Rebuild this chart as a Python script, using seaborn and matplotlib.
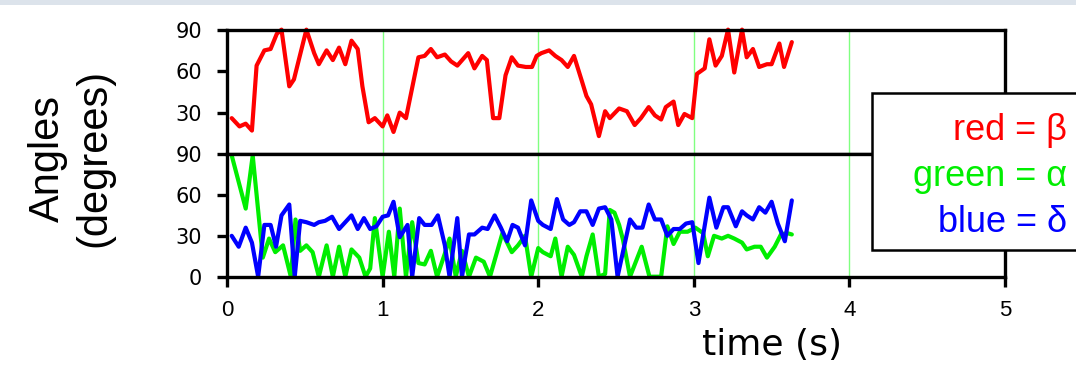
import pandas as pd
import matplotlib.pyplot as plt
import seaborn as sns
from matplotlib.patches import Rectangle

# Angles (time in s, angle in degrees)
red_t = [0.03, 0.08, 0.12, 0.16, 0.19, 0.24, 0.28, 0.32, 0.35, 0.40,
         0.43, 0.47, 0.51, 0.56, 0.59, 0.64, 0.68, 0.72, 0.76, 0.80,
         0.84, 0.87, 0.91, 0.95, 1.00, 1.03, 1.07, 1.11, 1.15, 1.19,
         1.23, 1.27, 1.31, 1.35, 1.40, 1.44, 1.48, 1.55, 1.59, 1.64,
         1.67, 1.71, 1.75, 1.79, 1.83, 1.87, 1.92, 1.96, 1.99, 2.02,
         2.07, 2.11, 2.15, 2.19, 2.23, 2.28, 2.31, 2.34, 2.39, 2.43,
         2.46, 2.52, 2.57, 2.62, 2.66, 2.71, 2.75, 2.79, 2.82, 2.87,
         2.90, 2.94, 2.99, 3.02, 3.07, 3.10, 3.14, 3.18, 3.22, 3.26,
         3.31, 3.34, 3.38, 3.42, 3.47, 3.50, 3.55, 3.58, 3.63]
red_beta = [26, 20, 22, 17, 64, 75, 76, 87, 90, 49,
            54, 72, 90, 73, 65, 75, 68, 77, 65, 82,
            76, 49, 23, 26, 20, 28, 16, 30, 26, 48,
            70, 71, 76, 70, 72, 67, 64, 73, 62, 71,
            68, 26, 26, 57, 70, 64, 63, 63, 71, 73,
            75, 71, 68, 63, 71, 53, 42, 36, 13, 31,
            26, 33, 31, 21, 26, 34, 28, 25, 34, 38,
            21, 29, 26, 58, 62, 83, 64, 71, 90, 59,
            90, 70, 76, 63, 65, 65, 80, 63, 81]

green_t = [0.03, 0.12, 0.165, 0.23, 0.27, 0.31, 0.36, 0.41, 0.44, 0.47,
           0.51, 0.55, 0.59, 0.64, 0.68, 0.72, 0.76, 0.80, 0.85, 0.89,
           0.92, 0.95, 1.00, 1.04, 1.075, 1.11, 1.15, 1.19, 1.23, 1.27,
           1.31, 1.35, 1.40, 1.43, 1.47, 1.51, 1.555, 1.60, 1.65, 1.69,
           1.77, 1.83, 1.87, 1.915, 1.955, 2.00, 2.03, 2.08, 2.11, 2.15,
           2.19, 2.23, 2.28, 2.31, 2.35, 2.39, 2.43, 2.46, 2.49, 2.52,
           2.545, 2.59, 2.665, 2.715, 2.79, 2.83, 2.87, 2.91, 2.96, 3.01,
           3.06, 3.09, 3.13, 3.18, 3.22, 3.26, 3.31, 3.34, 3.39, 3.43,
           3.47, 3.52, 3.56, 3.60, 3.63]
green_alpha = [89, 50, 89, 14, 28, 18, 23, 0, 42, 19,
               23, 18, 0, 23, 0, 22, 0, 20, 14, 0,
               6, 43, 0, 33, 0, 50, 0, 40, 10, 9,
               19, 0, 17, 28, 0, 19, 0, 14, 11, 0,
               32, 18, 23, 30, 0, 21, 18, 15, 28, 0,
               22, 16, 0, 15, 31, 0, 2, 49, 47, 38,
               27, 0, 22, 0, 0, 37, 24, 33, 33, 36,
               32, 15, 30, 28, 30, 28, 25, 20, 22, 22,
               14, 22, 31, 32, 31]

blue_t = [0.03, 0.075, 0.12, 0.16, 0.20, 0.24, 0.28, 0.315, 0.35, 0.40,
          0.435, 0.47, 0.51, 0.56, 0.59, 0.63, 0.675, 0.72, 0.76, 0.80,
          0.84, 0.88, 0.92, 0.96, 1.00, 1.035, 1.07, 1.11, 1.16, 1.19,
          1.235, 1.27, 1.315, 1.355, 1.40, 1.43, 1.48, 1.51, 1.555, 1.59,
          1.64, 1.675, 1.72, 1.76, 1.80, 1.835, 1.87, 1.915, 1.955, 2.00,
          2.03, 2.08, 2.12, 2.16, 2.20, 2.23, 2.27, 2.31, 2.35, 2.39,
          2.43, 2.47, 2.51, 2.59, 2.63, 2.67, 2.71, 2.75, 2.79, 2.83,
          2.87, 2.91, 2.95, 2.99, 3.03, 3.10, 3.145, 3.19, 3.22, 3.27,
          3.31, 3.34, 3.38, 3.42, 3.46, 3.50, 3.54, 3.585, 3.63]
blue_delta = [30, 22, 36, 25, 0, 38, 38, 22, 45, 53,
              0, 41, 40, 38, 40, 41, 44, 35, 40, 45,
              35, 43, 35, 37, 44, 45, 55, 29, 38, 0,
              43, 38, 38, 45, 23, 0, 43, 0, 31, 31,
              36, 35, 45, 36, 26, 38, 36, 23, 56, 41,
              38, 35, 57, 42, 38, 40, 48, 48, 38, 50,
              51, 42, 0, 42, 36, 36, 53, 42, 42, 30,
              35, 35, 39, 40, 10, 58, 36, 51, 51, 37,
              48, 45, 42, 51, 47, 55, 39, 26, 56]

x_ticks = [0, 1, 2, 3, 4, 5]
top_yticks = [30, 60, 90]
bot_yticks = [0, 30, 60, 90]

sns.set_theme(style="white")
plt.rcParams["font.family"] = ["Liberation Sans", "DejaVu Sans"]
plt.rcParams["text.color"] = "black"

top = pd.DataFrame({"t": red_t, "angle": red_beta})
bot = pd.concat([
    pd.DataFrame({"t": green_t, "angle": green_alpha, "series": "alpha"}),
    pd.DataFrame({"t": blue_t, "angle": blue_delta, "series": "delta"}),
])

fig = plt.figure(figsize=(10.76, 3.66), dpi=100)
fig.patch.set_facecolor("white")
ax_top = fig.add_axes([0.211, 0.579, 0.723, 0.340])
ax_bot = fig.add_axes([0.211, 0.244, 0.723, 0.335])

sns.lineplot(data=top, x="t", y="angle", color="#ff0000", lw=3.0,
             estimator=None, ax=ax_top)
sns.lineplot(data=bot, x="t", y="angle", hue="series",
             palette={"alpha": "#00ee00", "delta": "#0000ff"}, lw=3.0,
             estimator=None, legend=False, ax=ax_bot)

for ax, yt in [(ax_top, top_yticks), (ax_bot, bot_yticks)]:
    ax.set_xlim(0, 5)
    ax.set_ylim(0, 90)
    ax.set_xticks(x_ticks, [str(v) for v in x_ticks], fontsize=16,
                  color="black")
    ax.set_yticks(yt, [str(v) for v in yt], fontsize=15,
                  fontfamily="DejaVu Sans", color="black")
    ax.set_xlabel("")
    ax.set_ylabel("")
    ax.set_axisbelow(True)
    ax.grid(axis="x", color="#80ff80", lw=1)
    ax.grid(axis="y", visible=False)
    for s in ax.spines.values():
        s.set_visible(True)
        s.set_color("black")
        s.set_linewidth(2.4)
    for ln in ax.lines:
        ln.set_clip_on(False)
    ax.tick_params(axis="y", left=True, direction="out", length=7, width=2.4,
                   color="black", pad=11)

ax_top.tick_params(axis="x", bottom=False, labelbottom=False)
ax_bot.tick_params(axis="x", bottom=True, direction="out", length=7, width=2.4,
                   color="black", pad=10)

ax_bot.set_xlabel("time (s)", fontsize=26, family="DejaVu Sans", va="center",
                  color="black")
ax_bot.xaxis.set_label_coords(0.7005, -0.554)

fig.text(0.066, 0.568, "Angles\n(degrees)", rotation=90, ha="center",
         va="center", ma="center", fontsize=30, color="black")

# legend box, partly cut by the right edge as in the reference
fig.add_artist(Rectangle((0.8104, 0.3169), 0.25, 0.429, transform=fig.transFigure,
                         fc="white", ec="black", lw=1.8, zorder=10))
fig.text(0.9916, 0.6175, "red = β", color="#ff0000", ha="right",
         va="baseline", fontsize=26, zorder=11)
fig.text(0.9916, 0.4918, "green = α", color="#00ee00", ha="right",
         va="baseline", fontsize=26, zorder=11)
fig.text(0.9916, 0.3661, "blue = δ", color="#0000ff", ha="right",
         va="baseline", fontsize=26, zorder=11)

# light strip along the top edge
fig.add_artist(Rectangle((0, 0.986), 1, 0.014, transform=fig.transFigure,
                         fc="#dce3eb", ec="none"))

fig.savefig("out.png", dpi=100)
